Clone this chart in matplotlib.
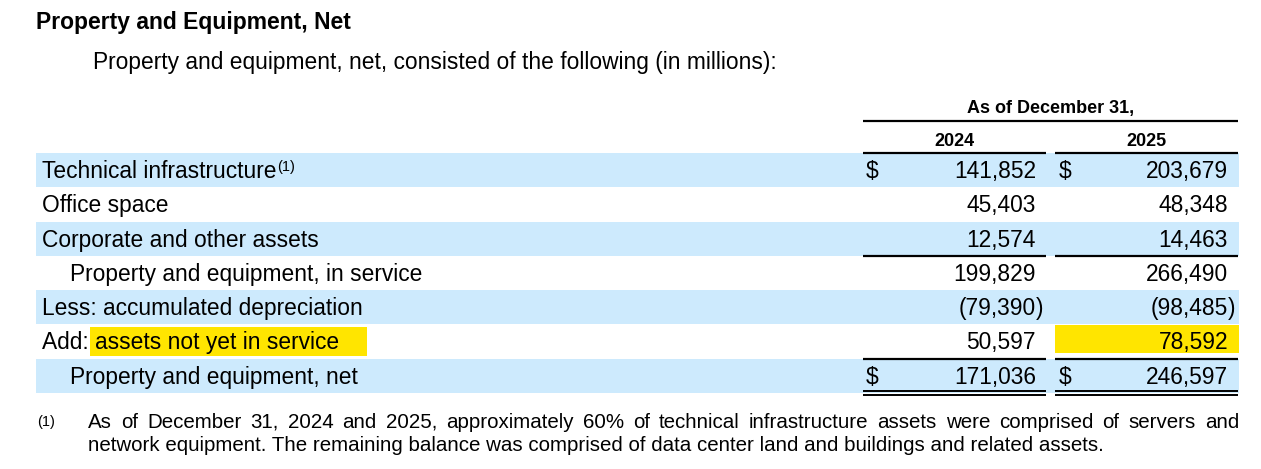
import matplotlib
matplotlib.use("Agg")
import matplotlib.pyplot as plt
from matplotlib import font_manager

# ---------------------------------------------------------------- data
title = "Property and Equipment, Net"
subtitle = "Property and equipment, net, consisted of the following (in millions):"
group_header = "As of December 31,"
years = ["2024", "2025"]
labels = [
    "Technical infrastructure",
    "Office space",
    "Corporate and other assets",
    "Property and equipment, in service",
    "Less: accumulated depreciation",
    "Add: assets not yet in service",
    "Property and equipment, net",
]
indented = [False, False, False, True, False, False, True]
shaded = [True, False, True, False, True, False, True]
dollar_rows = [0, 6]
vals_2024 = [141852, 45403, 12574, 199829, -79390, 50597, 171036]
vals_2025 = [203679, 48348, 14463, 266490, -98485, 78592, 246597]
footnote_mark = "(1)"
footnote_line1 = ("As of December 31, 2024 and 2025, approximately 60% of technical "
                  "infrastructure assets were comprised of servers and")
footnote_line2 = ("network equipment. The remaining balance was comprised of data center "
                  "land and buildings and related assets.")

# ---------------------------------------------------------------- layout
W, H = 1261, 469
BLUE = "#cdeafd"
YELLOW = "#ffe500"
FONT = "Liberation Sans"
BODY = 16.4
ROW_TOP = 153.0
ROW_H = 34.3
TABLE_L, TABLE_R = 36, 1239
COL_L = [863, 1055]
COL_R = [1046, 1238]
NUM_R = [1036, 1228]
DOLLAR_X = [866, 1059]

names = {f.name for f in font_manager.fontManager.ttflist}
NOTE_FONT = "Liberation Sans Narrow" if "Liberation Sans Narrow" in names else FONT

fig = plt.figure(figsize=(W / 100, H / 100), dpi=100)
ax = fig.add_axes([0, 0, 1, 1])
ax.set_xlim(0, W)
ax.set_ylim(H, 0)
ax.axis("off")
renderer = fig.canvas.get_renderer()


def width_of(s, size, family, weight="normal"):
    t = ax.text(0, 0, s, fontsize=size, family=family, weight=weight)
    w = t.get_window_extent(renderer).width
    t.remove()
    return w


ax.text(36, 29, title, fontsize=16.5, weight="bold", family=FONT, va="baseline")
ax.text(93, 69, subtitle, fontsize=BODY, family=FONT, va="baseline")

# header
ax.text((COL_L[0] + COL_R[1]) / 2, 113, group_header, fontsize=13, weight="bold",
        family=FONT, ha="center", va="baseline")
ax.plot([COL_L[0], COL_R[1]], [121, 121], color="black", lw=1.6, solid_capstyle="butt")
for j, yr in enumerate(years):
    ax.text((COL_L[j] + COL_R[j]) / 2, 146, yr, fontsize=13, weight="bold",
            family=FONT, ha="center", va="baseline")
    ax.plot([COL_L[j], COL_R[j]], [153, 153], color="black", lw=1.6, solid_capstyle="butt")

# rows
for i, lab in enumerate(labels):
    top = ROW_TOP + i * ROW_H
    base = top + 25
    if shaded[i]:
        ax.add_patch(plt.Rectangle((TABLE_L, top), TABLE_R - TABLE_L, ROW_H,
                                   color=BLUE, lw=0, zorder=0))
    x = 70 if indented[i] else 42
    if lab.startswith("Add: "):
        ax.add_patch(plt.Rectangle((90, top + 3), 277, 29, color=YELLOW, lw=0, zorder=1))
        ax.add_patch(plt.Rectangle((COL_L[1], top + 1), TABLE_R - COL_L[1], 28,
                                   color=YELLOW, lw=0, zorder=1))
    t = ax.text(x, base, lab, fontsize=BODY, family=FONT, va="baseline", zorder=3)
    if i == 0:
        x_end = t.get_window_extent(renderer).x1
        ax.text(x_end + 0.5, base - 7, footnote_mark, fontsize=10.5, family=FONT,
                va="baseline", zorder=3)
    for j, v in enumerate([vals_2024[i], vals_2025[i]]):
        if v < 0:
            ax.text(NUM_R[j], base, f"({-v:,}", fontsize=BODY, family=FONT,
                    ha="right", va="baseline", zorder=3)
            ax.text(NUM_R[j], base, ")", fontsize=BODY, family=FONT,
                    ha="left", va="baseline", zorder=3)
        else:
            ax.text(NUM_R[j], base, f"{v:,}", fontsize=BODY, family=FONT,
                    ha="right", va="baseline", zorder=3)
        if i in dollar_rows:
            ax.text(DOLLAR_X[j], base, "$", fontsize=BODY, family=FONT,
                    ha="left", va="baseline", zorder=3)

# rules under subtotal rows
for j in range(2):
    y1 = ROW_TOP + 3 * ROW_H
    y2 = ROW_TOP + 6 * ROW_H
    ax.plot([COL_L[j], COL_R[j]], [y1, y1], color="black", lw=1.6, solid_capstyle="butt")
    ax.plot([COL_L[j], COL_R[j]], [y2, y2], color="black", lw=1.6, solid_capstyle="butt")
    for yy in (391, 395.5):
        ax.plot([COL_L[j], COL_R[j]], [yy, yy], color="black", lw=1.4, solid_capstyle="butt")

# footnote
ax.text(37, 426, footnote_mark, fontsize=10.5, family=FONT, va="baseline")
note_x0, note_x1 = 88, 1239
fs = 10 * (1106 - note_x0) / width_of(footnote_line2, 10, NOTE_FONT)
ax.text(note_x0, 451, footnote_line2, fontsize=fs, family=NOTE_FONT, va="baseline")
words = footnote_line1.split()
ws = [width_of(w, fs, NOTE_FONT) for w in words]
gap = (note_x1 - note_x0 - sum(ws)) / (len(words) - 1)
x = note_x0
for w, wd in zip(words, ws):
    ax.text(x, 428, w, fontsize=fs, family=NOTE_FONT, va="baseline")
    x += wd + gap

fig.savefig("out.png", dpi=100)
